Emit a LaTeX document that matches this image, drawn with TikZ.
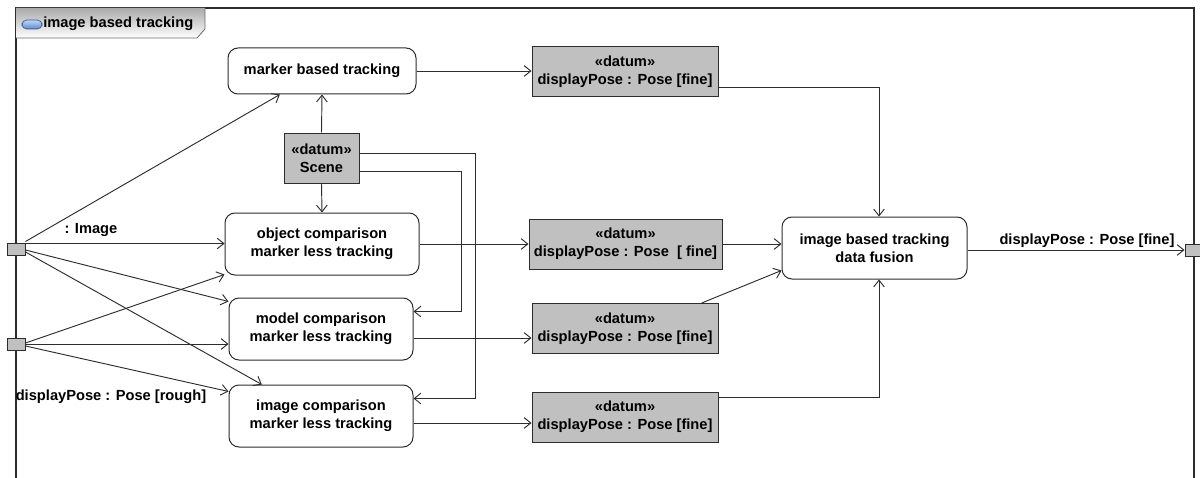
\documentclass[tikz,border=0pt]{standalone}
\usepackage{fontspec}
\setmainfont{Liberation Sans}
\usetikzlibrary{arrows.meta,calc}
\definecolor{linec}{RGB}{45,45,45}
\definecolor{datumfill}{RGB}{192,192,192}
\definecolor{tabtop}{RGB}{170,170,170}
\definecolor{iconblue}{RGB}{90,140,210}
\definecolor{iconlight}{RGB}{190,215,245}
\begin{document}
\begin{tikzpicture}[x=0.75pt,y=-0.75pt,
  every node/.style={font=\fontsize{11}{13.5}\selectfont\bfseries, text=black},
  action/.style={draw=linec, line width=0.75pt, rounded corners=7.5pt, fill=white, align=center, inner sep=0pt},
  datum/.style={draw=linec, line width=0.75pt, fill=datumfill, align=center, inner sep=0pt, minimum height=37.5pt},
  pin/.style={draw=linec, line width=0.75pt, fill=datumfill, inner sep=0pt, minimum width=13.5pt, minimum height=9pt},
  arr/.style={draw=linec, line width=0.7pt, -{Straight Barb[length=5pt,width=8pt,line width=0.7pt]}},
  plain/.style={draw=linec, line width=0.7pt}]
\useasboundingbox (0,0) rectangle (1200,478);
\clip (0,0) rectangle (1200,478);
\fill[white] (0,0) rectangle (1200,478);

% frame
\draw[linec, line width=0.9pt] (16,485) -- (16,8) -- (1194,8) -- (1194,485);
% tab
\shade[top color=tabtop, bottom color=white] (16,8) -- (205,8) -- (205,29) -- (197,38) -- (16,38) -- cycle;
\draw[linec!70, line width=0.6pt] (16,38) -- (197,38) -- (205,29) -- (205,8);
\shade[top color=iconlight, bottom color=iconblue, draw=iconblue!60!black, line width=0.5pt, rounded corners=3.5pt] (22,20) rectangle (42,29);
\node[anchor=west, inner sep=0pt] (title) at (43,24) {image based tracking};

% action nodes
\node[action, minimum width=141pt, minimum height=34.5pt] (marker) at (322,71) {marker based tracking};
\node[action, minimum width=145.5pt, minimum height=46.5pt] (objc) at (322,244) {object comparison\\marker less tracking};
\node[action, minimum width=138pt, minimum height=46.5pt] (modc) at (321,329) {model comparison\\marker less tracking};
\node[action, minimum width=138pt, minimum height=46.5pt] (imgc) at (321,416) {image comparison\\marker less tracking};
\node[action, minimum width=138.75pt, minimum height=46.5pt] (fusion) at (874.5,248) {image based tracking\\data fusion};

% datum nodes
\node[datum, minimum width=56.25pt] (scene) at (321.5,158) {«datum»\\Scene};
\node[datum, minimum width=139.5pt] (d1) at (625,72) {«datum»\\displayPose : Pose [fine]};
\node[datum, minimum width=144.75pt] (d2) at (625.5,244) {«datum»\\displayPose : Pose \ [ fine]};
\node[datum, minimum width=139.5pt] (d3) at (625,328.5) {«datum»\\displayPose : Pose [fine]};
\node[datum, minimum width=139.5pt] (d4) at (625,417) {«datum»\\displayPose : Pose [fine]};

% pins
\node[pin] (pin1) at (16,249) {};
\node[pin] (pin2) at (16,344) {};
\node[pin] (outpin) at (1194,250) {};

% labels
\node[inner sep=0pt] (lblimg) at (91,230) {: Image};
\node[inner sep=0pt] (lblrough) at (111,397) {displayPose : Pose [rough]};
\node[inner sep=0pt] (lblfine) at (1087,241) {displayPose : Pose [fine]};

% pin 1 flows
\draw[arr] ($(pin1.north east)+(0,-1)$) -- ($(marker.south west)!0.277!(marker.south east)$);
\draw[arr] ($(pin1.north east)+(0,1)$) -- (objc.west |- {$(pin1.north east)+(0,1)$});
\draw[arr] ($(pin1.east)+(0,1)$) -- ($(modc.north west)+(0,4)$);
\draw[arr] ($(pin1.east)+(0,3)$) -- ($(imgc.north west)!0.18!(imgc.north east)$);
% pin 2 flows
\draw[arr] ($(pin2.east)+(0,-1)$) -- ($(objc.south west)+(0,-1)$);
\draw[arr] (pin2.east) -- (modc.west |- pin2.east);
\draw[arr] ($(pin2.east)+(0,2)$) -- ($(imgc.north west)+(0,7)$);

% scene flows
\draw[arr] (scene.north) -- (marker.south);
\draw[arr] (scene.south) -- (objc.north);
\draw[arr] ($(scene.north east)+(0,21)$) -- ++(116,0) |- ($(imgc.north east)+(0,14)$);
\draw[arr] ($(scene.north east)+(0,39)$) -- ++(102,0) |- ($(modc.north east)+(0,14)$);

% actions to datums
\draw[arr] (marker.east) -- (marker.east -| d1.west);
\draw[arr] (objc.east) -- (objc.east -| d2.west);
\draw[arr] ($(modc.east)+(0,9)$) -- ($(d3.west)+(0,9.5)$);
\draw[arr] ($(imgc.east)+(0,7)$) -- ($(d4.west)+(0,6)$);

% datums to fusion
\draw[arr] ($(d1.south east)+(0,-10)$) -| ($(fusion.north)+(4.5,0)$);
\draw[arr] (d2.east) -- (d2.east -| fusion.west);
\draw[arr] ($(d3.north west)!0.91!(d3.north east)$) -- ($(fusion.south west)+(0,-9)$);
\draw[arr] ($(d4.north east)+(0,6)$) -| ($(fusion.south)+(4.5,0)$);

% fusion to output
\draw[arr] ($(fusion.east)+(0,2)$) -- (outpin.west);
\end{tikzpicture}
\end{document}
